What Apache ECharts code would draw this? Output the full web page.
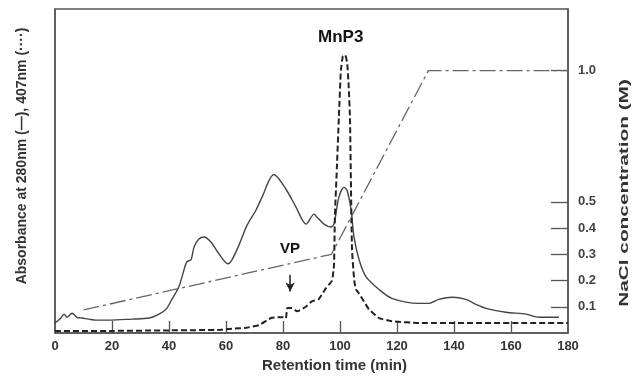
<!DOCTYPE html>
<html><head><meta charset="utf-8">
<script src="https://cdn.jsdelivr.net/npm/echarts@6/dist/echarts.min.js"></script>
<style>html,body{margin:0;padding:0;background:#fff}#c{width:641px;height:378px}</style>
</head><body><div id="c"></div>
<script>
// Retention time (min) / value pairs
const abs280 = [
 [0,0.038],[2.1,0.057],[3.2,0.072],[4.2,0.06],[6,0.075],[7.7,0.06],[9.5,0.057],[11.9,0.053],[14.4,0.049],
 [19,0.049],[27,0.053],[33,0.057],[36.5,0.072],[39,0.091],[41,0.128],[43.5,0.177],[45.3,0.242],[46.3,0.272],
 [47.7,0.279],[48.8,0.328],[50.5,0.358],[52.3,0.366],[54.7,0.347],[57.5,0.302],[60.7,0.264],[62.1,0.279],
 [64.6,0.336],[67.4,0.411],[70.5,0.468],[72.6,0.517],[76.8,0.604],[81.1,0.547],[84.6,0.479],[88.1,0.415],
 [90.9,0.453],[91.9,0.442],[94.4,0.415],[96.8,0.404],[97.9,0.415],[99.6,0.517],[101.4,0.555],[102.5,0.543],
 [103.9,0.468],[104.9,0.366],[106.7,0.279],[109.1,0.215],[113.7,0.166],[118.2,0.132],[127.7,0.113],
 [131.2,0.113],[134.7,0.128],[139.3,0.136],[144.2,0.128],[147.7,0.109],[151.2,0.094],[158.2,0.079],
 [165.3,0.072],[169.8,0.06],[176.8,0.06]
];
const abs407 = [
 [0,0.008],[20,0.008],[40,0.01],[58,0.012],[62.1,0.016],[67,0.02],[71.6,0.03],[76,0.058],[80,0.06],
 [81,0.055],[81.5,0.095],[83,0.095],[85,0.083],[88,0.1],[90,0.12],[92.6,0.13],[95,0.17],[97.2,0.2],
 [97.9,0.26],[98.2,0.44],[98.9,0.63],[99.6,0.82],[100.3,1.0],[101,1.055],[101.8,1.06],[102.5,1.03],
 [103,0.95],[103.5,0.82],[104.2,0.32],[105,0.2],[105.6,0.166],[106.7,0.15],[108.4,0.12],[110.2,0.09],
 [113.7,0.057],[118.2,0.045],[127.7,0.038],[180,0.038]
];
const nacl = [[10,0.088],[97,0.3],[131,1.0],[180,1.0]];
const xTicks = [0,20,40,60,80,100,120,140,160,180];
const naclTicks = [0.1,0.2,0.3,0.4,0.5,1.0];
const vpArrow = [[82.5,0.222],[82.5,0.158]];

const FONT = 'Arial, "Liberation Sans", sans-serif';
const chart = echarts.init(document.getElementById('c'));
chart.setOption({
  animation:false,
  backgroundColor:'#fff',
  grid:{left:55,right:73,top:9,bottom:41,show:true,borderColor:'#555',borderWidth:1.5,backgroundColor:'transparent'},
  xAxis:{
    type:'value',min:0,max:180,interval:20,
    name:'Retention time (min)',nameLocation:'middle',nameGap:25,
    nameTextStyle:{fontFamily:FONT,fontWeight:'bold',fontSize:15,color:'#333',padding:[0,0,0,46]},
    axisLine:{show:true,lineStyle:{color:'#555',width:1.5}},
    axisTick:{show:true,inside:true,length:12,customValues:xTicks.slice(1,-1),lineStyle:{color:'#555',width:1.3}},
    axisLabel:{fontFamily:FONT,fontWeight:'bold',fontSize:13,color:'#333',margin:7,customValues:xTicks},
    splitLine:{show:false}
  },
  yAxis:[{
    type:'value',min:0,max:1.235,position:'left',
    name:'Absorbance at 280nm (\u2014), 407nm (\u00b7\u00b7\u00b7\u00b7)',nameLocation:'middle',nameGap:26,nameRotate:90,
    nameTextStyle:{fontFamily:FONT,fontWeight:'bold',fontSize:14,color:'#333',padding:[0,0,0,30]},
    axisLine:{show:true,lineStyle:{color:'#555',width:1.5}},
    axisTick:{show:false},axisLabel:{show:false},splitLine:{show:false}
  },{
    type:'value',min:0,max:1.235,position:'right',
    axisLine:{show:true,lineStyle:{color:'#555',width:1.5}},
    axisTick:{show:true,inside:true,length:17,customValues:naclTicks,lineStyle:{color:'#555',width:1.3}},
    axisLabel:{fontFamily:FONT,fontWeight:'bold',fontSize:13,color:'#444',margin:10,customValues:naclTicks,
      formatter:v=>v.toFixed(1)},
    splitLine:{show:false}
  }],
  series:[
    {name:'280nm',type:'line',yAxisIndex:0,data:abs280,symbol:'none',smooth:0.3,
     lineStyle:{color:'#444',width:1.4}},
    {name:'407nm',type:'line',yAxisIndex:0,data:abs407,symbol:'none',smooth:0.15,
     lineStyle:{color:'#222',width:2,type:[6,3]},
     markLine:{silent:true,symbol:['none','arrow'],symbolSize:[7,9],label:{show:false},
       lineStyle:{color:'#222',width:1.5,type:'solid'},
       data:[[{coord:vpArrow[0]},{coord:vpArrow[1]}]]}},
    {name:'NaCl',type:'line',yAxisIndex:1,data:nacl,symbol:'none',
     lineStyle:{color:'#666',width:1.3,type:[16,4,3,4]}}
  ],
  graphic:[
    {type:'text',left:318,top:29,style:{text:'MnP3',font:'bold 17px '+FONT,fill:'#111'}},
    {type:'text',left:280,top:241,style:{text:'VP',font:'bold 15px '+FONT,fill:'#111'}},
    {type:'text',x:624,y:193,rotation:Math.PI/2,scaleX:1.6,
     style:{text:'NaCl concentration (M)',font:'bold 13px '+FONT,fill:'#333',align:'center',verticalAlign:'middle'}}
  ]
});
</script></body></html>
